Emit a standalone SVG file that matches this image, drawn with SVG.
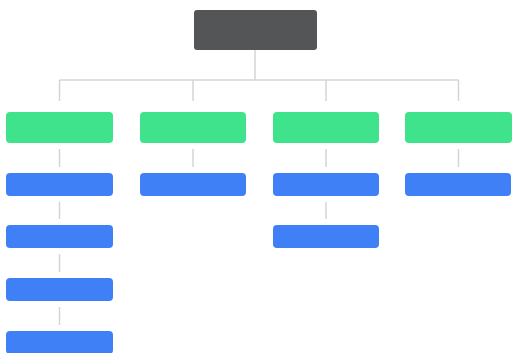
<svg xmlns="http://www.w3.org/2000/svg" width="513" height="353" viewBox="0 0 513 353">
<style>
.root{fill:#545557}
.cat{fill:#3ee38b}
.item{fill:#4080f7}
.conn line,.conn path{stroke:#d4d4d4;stroke-width:1.5;fill:none}
</style>
<rect width="513" height="353" fill="#ffffff"/>
<g class="conn">
<line x1="255" y1="50" x2="255" y2="80"/>
<line x1="59.5" y1="80" x2="458.5" y2="80"/>
<line x1="59.5" y1="80" x2="59.5" y2="101"/>
<line x1="193" y1="80" x2="193" y2="101"/>
<line x1="326" y1="80" x2="326" y2="101"/>
<line x1="458.5" y1="80" x2="458.5" y2="101"/>
<line x1="59.5" y1="149" x2="59.5" y2="167"/>
<line x1="193" y1="149" x2="193" y2="167"/>
<line x1="326" y1="149" x2="326" y2="167"/>
<line x1="458.5" y1="149" x2="458.5" y2="167"/>
<line x1="59.5" y1="202" x2="59.5" y2="219"/>
<line x1="326" y1="202" x2="326" y2="219"/>
<line x1="59.5" y1="254" x2="59.5" y2="272"/>
<line x1="59.5" y1="307" x2="59.5" y2="325"/>
</g>
<g id="root"><rect class="root" x="194" y="10" width="123" height="40" rx="3"/></g>
<g id="cat1"><rect class="cat" x="6" y="112" width="107" height="31" rx="4"/></g>
<g id="cat2"><rect class="cat" x="140" y="112" width="106" height="31" rx="4"/></g>
<g id="cat3"><rect class="cat" x="273" y="112" width="106" height="31" rx="4"/></g>
<g id="cat4"><rect class="cat" x="405" y="112" width="107" height="31" rx="4"/></g>
<g id="item1a"><rect class="item" x="6" y="173" width="107" height="23" rx="4"/></g>
<g id="item1b"><rect class="item" x="6" y="225" width="107" height="23" rx="4"/></g>
<g id="item1c"><rect class="item" x="6" y="278" width="107" height="23" rx="4"/></g>
<g id="item1d"><rect class="item" x="6" y="331" width="107" height="23" rx="4"/></g>
<g id="item2a"><rect class="item" x="140" y="173" width="106" height="23" rx="4"/></g>
<g id="item3a"><rect class="item" x="273" y="173" width="106" height="23" rx="4"/></g>
<g id="item3b"><rect class="item" x="273" y="225" width="106" height="23" rx="4"/></g>
<g id="item4a"><rect class="item" x="405" y="173" width="106" height="23" rx="4"/></g>
</svg>
